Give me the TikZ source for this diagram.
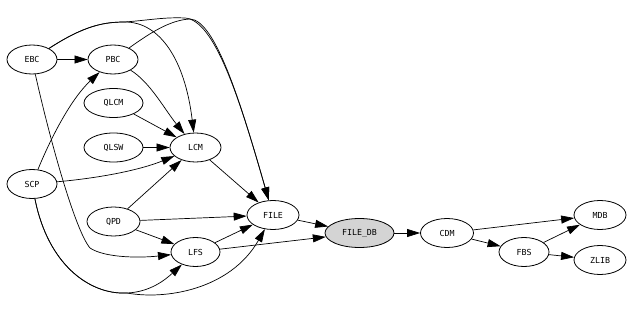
\documentclass[tikz,border=0pt]{standalone}
\usepackage{fontspec}
\setmonofont{DejaVu Sans Mono}
\usetikzlibrary{shapes.geometric,arrows.meta,positioning,calc}

\begin{document}
\begin{tikzpicture}[x=1pt, y=-1pt,
    mod/.style={ellipse, draw, line width=0.8pt, minimum width=50pt, minimum height=29pt,
        inner sep=0pt, font=\ttfamily\fontsize{8.3}{9}\selectfont},
    widemod/.style={mod, minimum width=59pt},
    dbmod/.style={mod, fill=black!17, minimum width=69pt},
    dep/.style={-{Triangle[length=13pt,width=8pt]}, line width=0.7pt}]
    \useasboundingbox (0,0) rectangle (632,310);

    % Modules
    \node[mod] (EBC) at (32,59.5) {EBC};
    \node[mod] (PBC) at (113,59.5) {PBC};
    \node[widemod] (QLCM) at (113.5,103) {QLCM};
    \node[widemod] (QLSW) at (113.5,147.5) {QLSW};
    \node[mod, minimum width=51pt] (LCM) at (195.5,147.5) {LCM};
    \node[mod] (SCP) at (32,184) {SCP};
    \node[mod, minimum width=53pt] (QPD) at (113.5,221.5) {QPD};
    \node[mod, minimum width=52pt] (FILE) at (273,215) {FILE};
    \node[mod, minimum width=49pt] (LFS) at (195.5,252) {LFS};
    \node[dbmod] (FILEDB) at (359.5,233) {FILE\_DB};
    \node[mod, minimum width=53pt] (CDM) at (447,233) {CDM};
    \node[mod, minimum width=52pt] (MDB) at (600,215) {MDB};
    \node[mod] (FBS) at (524,252) {FBS};
    \node[mod, minimum width=52pt] (ZLIB) at (600,260) {ZLIB};

    % Long curves over the top
    \draw[dep] (EBC) .. controls (85,25) and (105,22) .. (125,22)
        .. controls (160,22) and (185,60) .. (LCM);
    \draw[dep] (EBC) .. controls (85,25) and (105,22) .. (125,22)
        .. controls (150,20) and (165,17) .. (185,18)
        .. controls (215,20) and (240,100) .. (FILE);
    \draw[dep] (PBC) .. controls (150,33) and (170,20) .. (190,19)
        .. controls (215,20) and (240,100) .. (FILE);

    % Curves round the bottom
    \draw[dep] (EBC) .. controls (50,140) and (75,230) .. (90,248)
        .. controls (105,258) and (140,258) .. (LFS);
    \draw[dep] (SCP) .. controls (48,265) and (90,295) .. (127,293)
        .. controls (150,292) and (165,280) .. (LFS);
    \draw[dep] (SCP) .. controls (48,265) and (90,295) .. (127,293)
        .. controls (165,300) and (230,290) .. (FILE);

    % Other dependencies
    \draw[dep] (EBC) -- (PBC);
    \draw[dep] (PBC) .. controls (150,82) and (165,110) .. (LCM);
    \draw[dep] (SCP) .. controls (50,140) and (70,100) .. (PBC);
    \draw[dep] (SCP) .. controls (100,178) and (140,170) .. (LCM);
    \draw[dep] (QLCM) -- (LCM);
    \draw[dep] (QLSW) -- (LCM);
    \draw[dep] (QPD) -- (LCM);
    \draw[dep] (QPD) -- (FILE);
    \draw[dep] (QPD) -- (LFS);
    \draw[dep] (LCM) -- (FILE);
    \draw[dep] (LFS) -- (FILE);
    \draw[dep] (LFS) -- (FILEDB);
    \draw[dep] (FILE) -- (FILEDB);
    \draw[dep] (FILEDB) -- (CDM);
    \draw[dep] (CDM) -- (MDB);
    \draw[dep] (CDM) -- (FBS);
    \draw[dep] (FBS) -- (MDB);
    \draw[dep] (FBS) -- (ZLIB);
\end{tikzpicture}
\end{document}
